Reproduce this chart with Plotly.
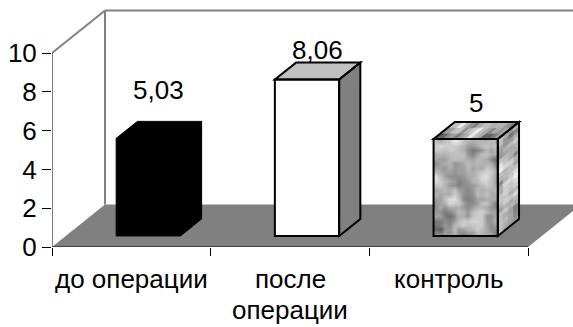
import numpy as np
import plotly.graph_objects as go

# ---- data ----
category_lines = [["до операции"], ["после", "операции"], ["контроль"]]
values = [5.03, 8.06, 5.0]
y_ticks = [0, 2, 4, 6, 8, 10]
label_lift = [3.06, 2.09, 2.40]   # how far each value label sits above its bar top

# ---- pseudo-3D geometry (in axis units) ----
DEPTH_DX = 0.334     # horizontal shift of the full floor depth, category units
DEPTH_DY = 2.19      # vertical shift of the full floor depth, value units
BAR_W = 0.405
BAR_C = 0.52
D0, D1 = 0.26, 0.66  # front / back depth of the columns
N = len(values)
FONT = "Liberation Sans, Arial, sans-serif"
FS = 26


def proj(x, v, d):
    return x + d * DEPTH_DX, v + d * DEPTH_DY


def path(points):
    return "M " + " L ".join(f"{x:.5f},{y:.5f}" for x, y in points) + " Z"


def poly_shape(points, fill, line_color=None, width=0, layer="above"):
    return dict(type="path", xref="x", yref="y", path=path(points),
                fillcolor=fill, layer=layer,
                line=dict(color=line_color or fill, width=width))


def grain_field(nx, ny, seed):
    """Soft mottled field in [0,1] used as a stone-like texture."""
    i = np.arange(nx + 2)[None, :] + seed
    j = np.arange(ny + 2)[:, None] + 3 * seed
    s = np.sin(i * 12.9898 + j * 78.233) * 43758.5453
    h = s - np.floor(s)
    sm = np.zeros((ny, nx))
    for a in range(3):
        for b in range(3):
            sm += h[a:a + ny, b:b + nx]
    sm /= 9.0
    return (sm - sm.min()) / (sm.max() - sm.min())


STONE = [(0.0, 90), (0.5, 172), (1.0, 236)]


def stone_gray(t):
    for (t0, g0), (t1, g1) in zip(STONE[:-1], STONE[1:]):
        if t <= t1:
            g = g0 + (g1 - g0) * (t - t0) / (t1 - t0)
            break
    g = int(round(g))
    return f"rgb({g},{g},{g})"


shapes = []
traces = []

# floor and walls
shapes.append(poly_shape([proj(0, 0, 0), proj(N, 0, 0), proj(N, 0, 1), proj(0, 0, 1)],
                         "#808080", layer="below"))
wall = dict(color="#808080", width=2)
for p, q in [(proj(0, 10, 0), proj(0, 10, 1)),
             (proj(0, 0, 1), proj(0, 10, 1)),
             (proj(0, 10, 1), proj(N + 1, 10, 1))]:
    shapes.append(dict(type="line", xref="x", yref="y", x0=p[0], y0=p[1],
                       x1=q[0], y1=q[1], line=wall, layer="below"))

# columns
outline = []
for i, v in enumerate(values):
    xl = i + BAR_C - BAR_W / 2
    xr = xl + BAR_W
    front = [proj(xl, 0, D0), proj(xr, 0, D0), proj(xr, v, D0), proj(xl, v, D0)]
    top = [proj(xl, v, D0), proj(xr, v, D0), proj(xr, v, D1), proj(xl, v, D1)]
    side = [proj(xr, 0, D0), proj(xr, 0, D1), proj(xr, v, D1), proj(xr, v, D0)]
    if i == 0:
        for face in (front, top, side):
            shapes.append(poly_shape(face, "#000000", "#000000", 1))
    elif i == 1:
        shapes.append(poly_shape(front, "#ffffff"))
        shapes.append(poly_shape(top, "#c0c0c0"))
        shapes.append(poly_shape(side, "#808080"))
        for face in (front, top, side):
            outline.append(poly_shape(face, "rgba(0,0,0,0)", "#000000", 2))
    else:
        # front face: smooth mottled heatmap
        nx, ny = 14, 22
        fx0, fy0 = proj(xl, 0, D0)
        fx1, fy1 = proj(xr, v, D0)
        cw, ch = (fx1 - fx0) / nx, (fy1 - fy0) / ny
        xs = fx0 + cw * (np.arange(nx) + 0.5)
        ys = fy0 + ch * (np.arange(ny) + 0.5)
        z = grain_field(nx, ny, 7)
        traces.append(go.Heatmap(
            x=xs, y=ys, z=z, zsmooth="best", showscale=False, hoverinfo="skip",
            zmin=0, zmax=1,
            colorscale=[[t, stone_gray(t)] for t, _ in STONE]))
        # side face: small quads
        sc, sr = 4, 22
        gs = grain_field(sc, sr, 41)
        for r in range(sr):
            for c in range(sc):
                da, db = D0 + (D1 - D0) * c / sc, D0 + (D1 - D0) * (c + 1) / sc
                va, vb = v * r / sr, v * (r + 1) / sr
                quad = [proj(xr, va, da), proj(xr, va, db), proj(xr, vb, db), proj(xr, vb, da)]
                shapes.append(poly_shape(quad, stone_gray(min(1, gs[r, c] * 0.9 + 0.15)),
                                         width=0.5))
        # top face: small quads
        tc, tr = 14, 3
        gt = grain_field(tc, tr, 77)
        for r in range(tr):
            for c in range(tc):
                da, db = D0 + (D1 - D0) * r / tr, D0 + (D1 - D0) * (r + 1) / tr
                xa, xb = xl + BAR_W * c / tc, xl + BAR_W * (c + 1) / tc
                quad = [proj(xa, v, da), proj(xb, v, da), proj(xb, v, db), proj(xa, v, db)]
                shapes.append(poly_shape(quad, stone_gray(gt[r, c]), width=0.5))
        for face in (front, top, side):
            outline.append(poly_shape(face, "rgba(0,0,0,0)", "#000000", 2))
shapes += outline

# front axis lines
shapes.append(dict(type="line", xref="x", yref="y", x0=0, y0=0, x1=0, y1=10,
                   line=dict(color="#000000", width=1)))
shapes.append(dict(type="line", xref="x", yref="y", x0=0, y0=0, x1=N, y1=0,
                   line=dict(color="#000000", width=1)))

annotations = []
mid = (D0 + D1) / 2
for i, v in enumerate(values):
    annotations.append(dict(
        x=i + BAR_C + mid * DEPTH_DX, y=v + label_lift[i], xref="x", yref="y",
        text=f"{v:g}".replace(".", ","), showarrow=False,
        xanchor="center", yanchor="middle", font=dict(family=FONT, size=FS, color="#000")))
line_shift = [-32, -63]
for i, lines in enumerate(category_lines):
    for k, t in enumerate(lines):
        annotations.append(dict(
            x=i + 0.5, y=0, xref="x", yref="y", text=t, showarrow=False,
            xanchor="center", yanchor="middle", yshift=line_shift[k],
            font=dict(family=FONT, size=FS, color="#000")))

fig = go.Figure(traces)
fig.update_layout(
    width=573, height=327,
    margin=dict(l=52, r=0, t=0, b=80),
    paper_bgcolor="#ffffff", plot_bgcolor="#ffffff",
    showlegend=False,
    shapes=shapes, annotations=annotations,
    font=dict(family=FONT, size=FS, color="#000"),
    xaxis=dict(range=[0, 521 / 158.7], showgrid=False, zeroline=False, showline=False,
               tickvals=list(range(N + 1)), ticktext=[""] * (N + 1),
               ticks="outside", ticklen=8, tickcolor="#000", tickwidth=1, fixedrange=True),
    yaxis=dict(range=[0, 247 / 19.4], showgrid=False, zeroline=False, showline=False,
               tickvals=y_ticks, ticktext=[str(t) for t in y_ticks],
               ticks="outside", ticklen=9, tickcolor="#000", tickwidth=1,
               tickfont=dict(family=FONT, size=FS, color="#000"), fixedrange=True),
)

fig.write_html("out.html")
